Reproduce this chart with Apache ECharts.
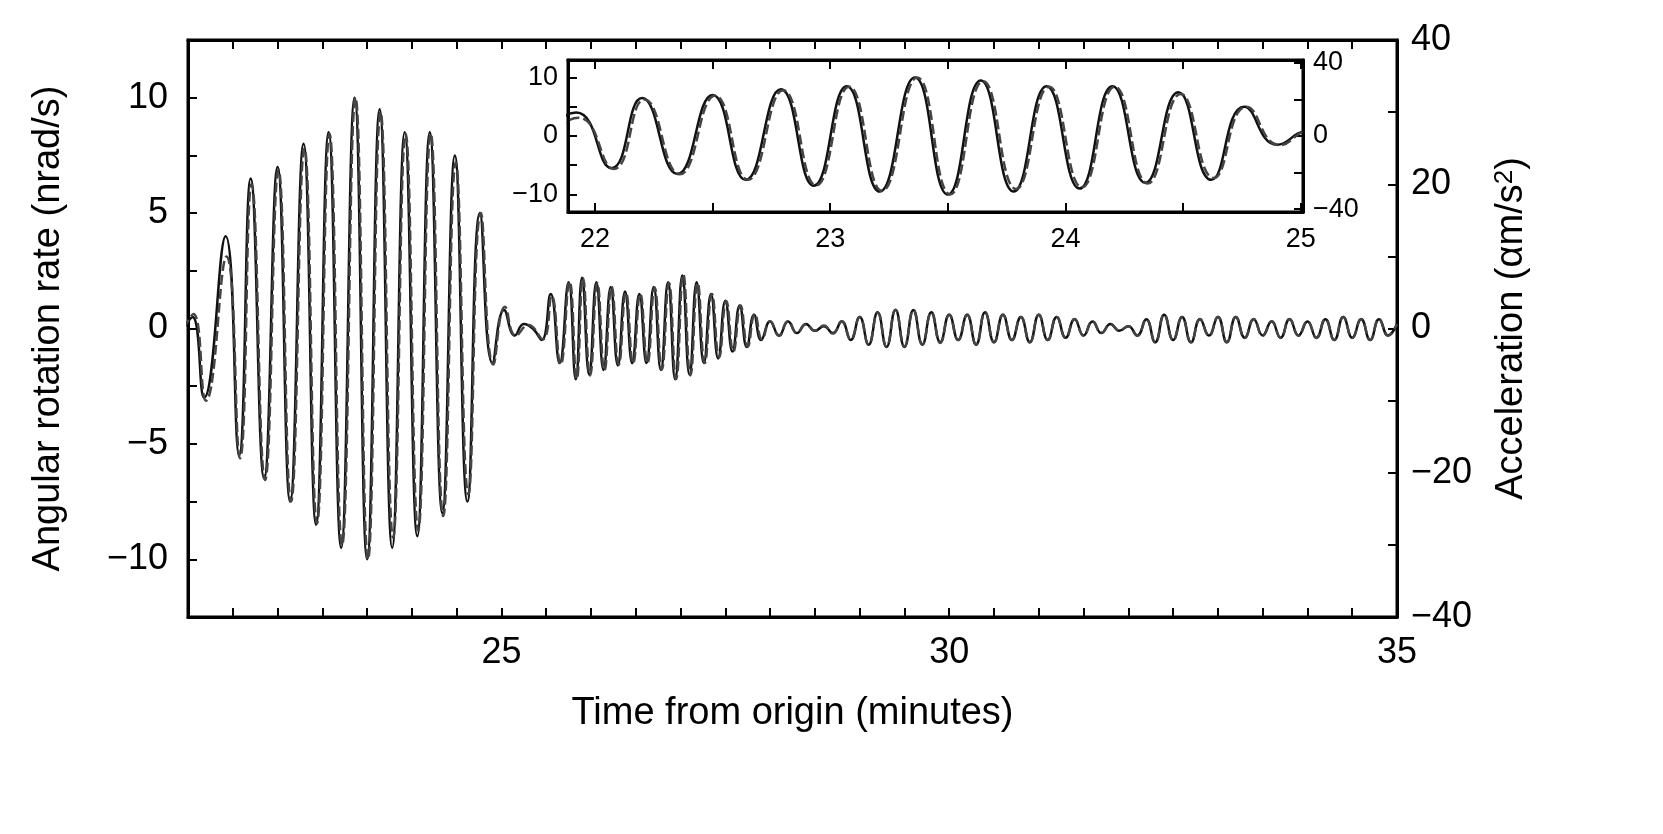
<!DOCTYPE html><html><head><meta charset="utf-8">
<script src="https://cdn.jsdelivr.net/npm/echarts@6/dist/echarts.min.js"></script>
<style>html,body{margin:0;background:#fff}#c{width:1663px;height:834px}</style></head><body><div id="c"></div>
<script>
// rotation rate (nrad/s): [time(min), value]
const rotBurst=[[21.45,0],[21.55,0.5],[21.68,-3],[21.92,4],[22.07,-5.5],[22.2,6.5],[22.35,-6.5],[22.5,7],[22.64,-7.5],[22.79,8],[22.93,-8.5],[23.07,8.5],[23.21,-9.5],[23.36,10],[23.5,-10],[23.64,9.5],[23.78,-9.5],[23.92,8.5],[24.06,-9],[24.2,8.5],[24.34,-8],[24.48,7.5],[24.62,-7.5],[24.76,5],[24.9,-1.5],[25.03,0.8],[25.15,-0.3],[25.25,0.2],[25.35,0]];
const rotPacket=[[25.45,-0.5],[25.55,1.5],[25.65,-1.5],[25.75,2],[25.83,-2.2],[25.9,2.2],[25.98,-2],[26.06,2],[26.14,-1.8],[26.22,1.8],[26.3,-1.6],[26.38,1.6],[26.46,-1.5],[26.54,1.5],[26.62,-1.5],[26.7,1.8],[26.78,-1.8],[26.86,2],[26.94,-2.2],[27.02,2.3],[27.1,-2],[27.18,2],[27.26,-1.5],[27.34,1.5],[27.42,-1.3],[27.5,1.2],[27.58,-1],[27.66,1],[27.74,-0.8],[27.82,0.6],[27.9,-0.5],[28.0,0.3]];
const rotTail=[[28.1,-0.3],[28.2,0.3],[28.3,-0.2],[28.4,0.2],[28.5,-0.1],[28.6,0.1],[28.7,-0.2],[28.8,0.3],[28.9,-0.5],[29.0,0.5],[29.1,-0.7],[29.2,0.7],[29.3,-0.8],[29.4,0.8],[29.5,-0.8],[29.6,0.8],[29.7,-0.7],[29.8,0.7],[29.9,-0.6],[30.0,0.6],[30.1,-0.5],[30.2,0.6],[30.3,-0.7],[30.4,0.7],[30.5,-0.6],[30.6,0.6],[30.7,-0.5],[30.8,0.5],[30.9,-0.6],[31.0,0.6],[31.1,-0.5],[31.2,0.5],[31.3,-0.4],[31.4,0.4],[31.5,-0.3],[31.6,0.3],[31.7,-0.2],[31.8,0.2],[31.9,-0.1],[32.0,0.1],[32.1,-0.3],[32.2,0.4],[32.3,-0.6],[32.4,0.6],[32.5,-0.5],[32.6,0.5],[32.7,-0.6],[32.8,0.4],[32.9,-0.3],[33.0,0.5],[33.1,-0.6],[33.2,0.5],[33.3,-0.4],[33.4,0.4],[33.5,-0.3],[33.6,0.3],[33.7,-0.4],[33.8,0.4],[33.9,-0.3],[34.0,0.3],[34.1,-0.4],[34.2,0.4],[34.3,-0.5],[34.4,0.5],[34.5,-0.4],[34.6,0.4],[34.7,-0.5],[34.8,0.4],[34.9,-0.3],[35.0,0.2]];
// acceleration (am/s^2)
const accBurst=[[21.45,0],[21.56,2],[21.7,-10],[21.93,10],[22.08,-18],[22.21,20],[22.36,-21],[22.51,22],[22.65,-24],[22.8,25],[22.94,-27],[23.08,27],[23.22,-30],[23.37,32],[23.51,-32],[23.65,30],[23.79,-29],[23.93,27],[24.07,-28],[24.21,27],[24.35,-26],[24.49,23],[24.63,-23],[24.77,16],[24.91,-5],[25.04,3],[25.16,-1],[25.3,0.5]];
const accPacket=[[25.46,-1.5],[25.56,4.5],[25.66,-5],[25.76,6.5],[25.84,-7],[25.91,7],[25.99,-6.5],[26.07,6.3],[26.15,-5.8],[26.23,5.8],[26.31,-5],[26.39,5],[26.47,-4.8],[26.55,4.8],[26.63,-4.8],[26.71,5.7],[26.79,-5.7],[26.87,6.3],[26.95,-7],[27.03,7.5],[27.11,-6.5],[27.19,6.3],[27.27,-4.8],[27.35,4.8],[27.43,-4],[27.51,3.8],[27.59,-3.2],[27.67,3.2],[27.75,-2.5],[27.83,2],[27.91,-1.5],[28.0,1]];
const accTail=[[28.1,-1],[28.2,1],[28.3,-0.6],[28.4,0.6],[28.5,-0.3],[28.6,0.4],[28.7,-0.7],[28.8,1],[28.9,-1.5],[29.0,1.6],[29.1,-2.2],[29.2,2.2],[29.3,-2.5],[29.4,2.6],[29.5,-2.5],[29.6,2.5],[29.7,-2.2],[29.8,2.2],[29.9,-2],[30.0,1.9],[30.1,-1.6],[30.2,1.9],[30.3,-2.2],[30.4,2.2],[30.5,-1.9],[30.6,1.9],[30.7,-1.6],[30.8,1.6],[30.9,-1.9],[31.0,1.9],[31.1,-1.6],[31.2,1.6],[31.3,-1.3],[31.4,1.3],[31.5,-1],[31.6,1],[31.7,-0.6],[31.8,0.6],[31.9,-0.3],[32.0,0.3],[32.1,-1],[32.2,1.3],[32.3,-1.9],[32.4,1.9],[32.5,-1.6],[32.6,1.6],[32.7,-1.9],[32.8,1.3],[32.9,-1],[33.0,1.6],[33.1,-1.9],[33.2,1.6],[33.3,-1.3],[33.4,1.3],[33.5,-1],[33.6,1],[33.7,-1.3],[33.8,1.3],[33.9,-1],[34.0,1],[34.1,-1.3],[34.2,1.3],[34.3,-1.6],[34.4,1.6],[34.5,-1.3],[34.6,1.3],[34.7,-1.6],[34.8,1.3],[34.9,-1],[35.0,0.6]];
const mainXTicks=[25,30,35], insetXTicks=[22,23,24,25];
const insetYLeft=[-10,0,10], insetYRight=[-40,0,40];
const rot=rotBurst.concat(rotPacket,rotTail), acc=accBurst.concat(accPacket,accTail);
const F='Liberation Sans, Arial, sans-serif';
const minus=v=>v<0?'\u2212'+(-v):''+v;
const tick={inside:true,length:9,lineStyle:{color:'#000',width:2}};
const line={onZero:false,lineStyle:{color:'#000',width:3}};
const ch=echarts.init(document.getElementById('c'));
ch.setOption({animation:false,
grid:[{left:188,top:40,width:1209,height:577,show:true,borderColor:'#000',borderWidth:3},
      {left:568,top:60,width:735,height:152,show:true,borderColor:'#000',borderWidth:3,backgroundColor:'#fff',z:5}],
xAxis:[
 {gridIndex:0,type:'value',min:21.5,max:35,interval:0.5,axisLine:line,axisTick:tick,splitLine:{show:false},
  axisLabel:{customValues:mainXTicks,fontSize:36,fontFamily:F,color:'#000',margin:18},
  name:'Time from origin (minutes)',nameLocation:'middle',nameGap:78,nameTextStyle:{fontSize:38,fontFamily:F,color:'#000'}},
 {gridIndex:0,type:'value',position:'top',min:21.5,max:35,interval:0.5,axisLine:line,axisTick:tick,axisLabel:{show:false},splitLine:{show:false}},
 {gridIndex:1,type:'value',min:21.885,max:25.01,axisLine:line,axisTick:Object.assign({},tick,{customValues:[22,22.5,23,23.5,24,24.5,25]}),splitLine:{show:false},
  axisLabel:{customValues:insetXTicks,fontSize:27,fontFamily:F,color:'#000',margin:14},z:6},
 {gridIndex:1,type:'value',position:'top',min:21.885,max:25.01,axisLine:line,axisTick:Object.assign({},tick,{customValues:[22,22.5,23,23.5,24,24.5,25]}),axisLabel:{show:false},splitLine:{show:false},z:6}],
yAxis:[
 {gridIndex:0,type:'value',min:-12.5,max:12.5,interval:2.5,axisLine:line,axisTick:tick,splitLine:{show:false},
  axisLabel:{fontSize:36,fontFamily:F,color:'#000',margin:20,formatter:v=>v%5===0?minus(v):''},
  name:'Angular rotation rate (nrad/s)',nameLocation:'middle',nameGap:120,nameTextStyle:{fontSize:38,fontFamily:F,color:'#000'}},
 {gridIndex:0,type:'value',position:'right',min:-40,max:40,interval:10,axisLine:line,axisTick:tick,splitLine:{show:false},
  axisLabel:{fontSize:36,fontFamily:F,color:'#000',margin:14,formatter:v=>v%20===0?minus(v):''},
  name:'{a|Acceleration (\u03b1m/s}{s|2}{a|)}',nameLocation:'middle',nameRotate:90,nameGap:95,
  nameTextStyle:{rich:{a:{fontSize:38,fontFamily:F,color:'#000'},s:{fontSize:26,fontFamily:F,color:'#000',verticalAlign:'top',padding:[0,0,14,0]}}}},
 {gridIndex:1,type:'value',min:-13,max:13,axisLine:line,axisTick:Object.assign({},tick,{customValues:[-10,-5,0,5,10]}),splitLine:{show:false},
  axisLabel:{customValues:insetYLeft,fontSize:27,fontFamily:F,color:'#000',margin:10,formatter:v=>minus(v)},z:6},
 {gridIndex:1,type:'value',position:'right',min:-41.6,max:41.6,axisLine:line,axisTick:Object.assign({},tick,{customValues:[-40,-20,0,20,40]}),splitLine:{show:false},
  axisLabel:{customValues:insetYRight,fontSize:27,fontFamily:F,color:'#000',margin:10,formatter:v=>minus(v)},z:6}],
series:[
 {type:'line',xAxisIndex:0,yAxisIndex:0,data:rot,smooth:0.5,showSymbol:false,lineStyle:{color:'#111',width:2.5}},
 {type:'line',xAxisIndex:0,yAxisIndex:1,data:acc,smooth:0.5,showSymbol:false,lineStyle:{color:'#444',width:2.5,type:[10,4]}},
 {type:'line',xAxisIndex:2,yAxisIndex:2,data:rotBurst,smooth:0.5,showSymbol:false,clip:true,z:7,lineStyle:{color:'#111',width:2.5}},
 {type:'line',xAxisIndex:2,yAxisIndex:3,data:accBurst,smooth:0.5,showSymbol:false,clip:true,z:7,lineStyle:{color:'#444',width:2.5,type:[10,4]}}]
});
</script></body></html>
